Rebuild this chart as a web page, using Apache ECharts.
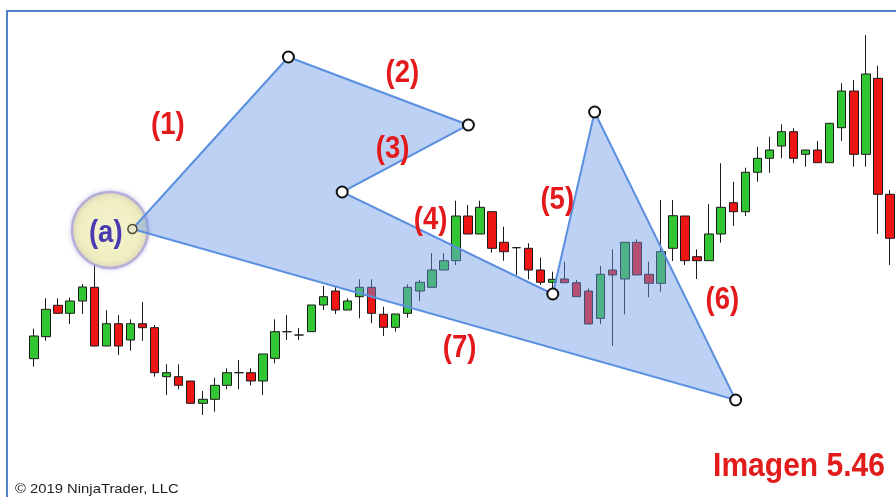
<!DOCTYPE html>
<html><head><meta charset="utf-8">
<script src="https://cdn.jsdelivr.net/npm/echarts@6/dist/echarts.min.js"></script>
<style>html,body{margin:0;padding:0;background:#fff}#c{width:896px;height:497px}</style>
</head><body><div id="c"></div>
<script>
const candleOpen = [138.3,160.3,191.7,183.7,196,209.7,151,173.3,157,173.3,169.3,120.3,120.3,116,93.7,97.7,111.7,124.3,124.3,116,138.7,165.3,162,165.3,192,206,187,200.3,209.7,182.7,169.7,183.7,206,209.7,227,236.3,281,263,285.3,254.7,249.3,248.7,227,214.7,218,214.3,206,178.7,227,218,254.7,222.7,213.7,248.7,281,240.3,236.3,263,294.3,285.3,324.7,338.7,351,365.3,342.7,347,334.3,369.3,406,342.7,418.7,302.7];
const candleClose = [161,187.7,183.7,196,210,151,173.3,151,173.3,169.3,124.3,124.3,111.7,93.7,97.7,111.7,124.3,124.3,116,143,165.3,165.3,162,192,200.3,187,196,209.7,183.7,169.7,183,209.7,214.7,227,236.3,281,263,289.7,248.7,245.3,249.3,227,214.7,217.7,214.3,200.3,173,222.7,222,254.7,222,213.7,245.3,281.3,236.3,236.3,263,289.7,285.3,324.7,338.7,347,365.3,338.7,347,334.3,373.7,406,342.7,423,302.7,258.7];
const candleLow = [130.3,156.3,183.7,173,183,151,151,142,146.3,156.3,120.3,102,107.7,93.7,82,85.3,107.7,107.7,111.7,102,133.7,157,157,165.3,187,183,187,178.7,173.7,161,165.3,179.3,196,209.7,227,232,263,263,244.3,236.3,222,217.7,212,207,214.3,200.3,173,173,151,182.7,222,199.7,205.3,236,232,218,236.3,254.3,271,281,315.3,324.3,338.7,333.7,330.3,334.3,334.3,356,330.3,330.3,263,232];
const candleHigh = [168.3,198.7,198.7,199.3,213,243.7,186.7,182,177.7,195,172,132.7,132.7,116,106,119.3,128.7,137,128.7,143,177.7,182,169,192,211,211,198.7,217.7,217.7,190.3,183,212.7,217,243.7,243.7,296.3,292,296.3,285.3,270.3,249.3,253.7,239.3,225.3,235.3,217,208.7,231,247.7,254.7,257.7,235.3,297,297,281,247.7,293,333.7,315.3,329.3,350.3,360.3,372.7,368.7,347,356,373.7,413.7,417,462,431.3,307];
const categories = candleOpen.map((_, i) => String(i + 1));

// drawing-tool polygon vertices (bar index, price)
const shapeX = [8.16, 21.1, 36.03, 25.56, 43.03, 46.5, 58.2];
const shapeY = [268, 440, 372, 305, 203, 385, 97];

// annotation labels (bar index, price)
const labelTexts = ['(1)', '(2)', '(3)', '(4)', '(5)', '(6)', '(7)'];
const labelX = [11.1, 30.55, 29.75, 32.9, 43.4, 57.1, 35.3];
const labelY = [372, 424, 348, 277, 297, 197, 149];

const anchorLabel = '(a)';
const anchorX = [6.3];
const anchorY = [267];
const anchorTextX = [5.95];
const anchorTextY = [264];

const chart = echarts.init(document.getElementById('c'), null, {renderer: 'canvas'});
const candleData = categories.map((_, i) => [candleOpen[i], candleClose[i], candleLow[i], candleHigh[i]]);
const sans = '"Liberation Sans", Arial, sans-serif';

function textItem(p, txt, color) {
  return {type: 'text', x: p[0], y: p[1], scaleX: 0.86,
    style: {text: txt, x: 0, y: 0, font: 'bold 32px ' + sans, fill: color, align: 'center', verticalAlign: 'middle'}};
}

chart.setOption({
  animation: false,
  backgroundColor: '#ffffff',
  grid: {left: 28, top: 0, width: 873, height: 497, show: false},
  xAxis: [
    {type: 'category', data: categories, show: false, boundaryGap: true},
    {type: 'value', min: -0.5, max: 71.5, show: false}
  ],
  yAxis: {type: 'value', min: 0, max: 497, show: false},
  graphic: [
    {type: 'polyline', shape: {points: [[7, 497], [7, 11], [896, 11]]}, style: {stroke: '#4f81c4', lineWidth: 2, fill: null}, z: 100},
    {type: 'text', x: 15, y: 489, scaleX: 1.14, style: {text: '© 2019 NinjaTrader, LLC', x: 0, y: 0, font: '13px ' + sans, fill: '#222', verticalAlign: 'middle'}, z: 100},
    {type: 'text', x: 885, y: 467, scaleX: 0.91, style: {text: 'Imagen 5.46', x: 0, y: 0, font: 'bold 33px ' + sans, fill: '#e21b1b', align: 'right', verticalAlign: 'middle'}, z: 100}
  ],
  series: [
    {
      type: 'candlestick', xAxisIndex: 0, data: candleData, barWidth: 9, z: 2,
      itemStyle: {color: '#33c633', color0: '#ee1515', borderColor: '#1a1a1a', borderColor0: '#1a1a1a', borderWidth: 1}
    },
    {
      type: 'scatter', xAxisIndex: 1, z: 3, silent: true,
      data: anchorX.map((x, i) => [x, anchorY[i]]),
      symbolSize: 76,
      itemStyle: {
        color: new echarts.graphic.RadialGradient(0.5, 0.5, 0.5, [
          {offset: 0, color: '#f6f4d0'}, {offset: 0.8, color: '#efedc0'}, {offset: 1, color: '#e4e1b8'}
        ]),
        borderColor: 'rgba(165,155,215,0.7)', borderWidth: 2.5,
        shadowColor: 'rgba(160,150,215,0.5)', shadowBlur: 5, opacity: 1
      }
    },
    {
      type: 'custom', xAxisIndex: 1, z: 4, silent: true,
      data: shapeX.map((x, i) => [x, shapeY[i]]),
      renderItem: function (params, api) {
        if (params.dataIndex !== 0) return null;
        const pts = shapeX.map((x, i) => api.coord([x, shapeY[i]]));
        return {type: 'polygon', shape: {points: pts},
          style: {fill: 'rgba(108,152,232,0.45)', stroke: '#5b8fe0', lineWidth: 2}};
      }
    },
    {
      type: 'scatter', xAxisIndex: 1, z: 5, silent: true,
      data: shapeX.slice(1).map((x, i) => [x, shapeY[i + 1]]),
      symbolSize: 11,
      itemStyle: {color: '#ffffff', borderColor: '#111', borderWidth: 2, opacity: 1}
    },
    {
      type: 'scatter', xAxisIndex: 1, z: 5, silent: true,
      data: [[shapeX[0], shapeY[0]]],
      symbolSize: 9,
      itemStyle: {color: '#e8e8c8', borderColor: '#4a4a30', borderWidth: 1.5, opacity: 1}
    },
    {
      type: 'custom', xAxisIndex: 1, z: 6, silent: true,
      data: labelX.map((x, i) => [x, labelY[i]]),
      renderItem: function (params, api) {
        const p = api.coord([api.value(0), api.value(1)]);
        return textItem(p, labelTexts[params.dataIndex], '#e3191b');
      }
    },
    {
      type: 'custom', xAxisIndex: 1, z: 6, silent: true,
      data: anchorTextX.map((x, i) => [x, anchorTextY[i]]),
      renderItem: function (params, api) {
        const p = api.coord([api.value(0), api.value(1)]);
        return textItem(p, anchorLabel, '#4a3ab2');
      }
    }
  ]
});
</script>
</body></html>
